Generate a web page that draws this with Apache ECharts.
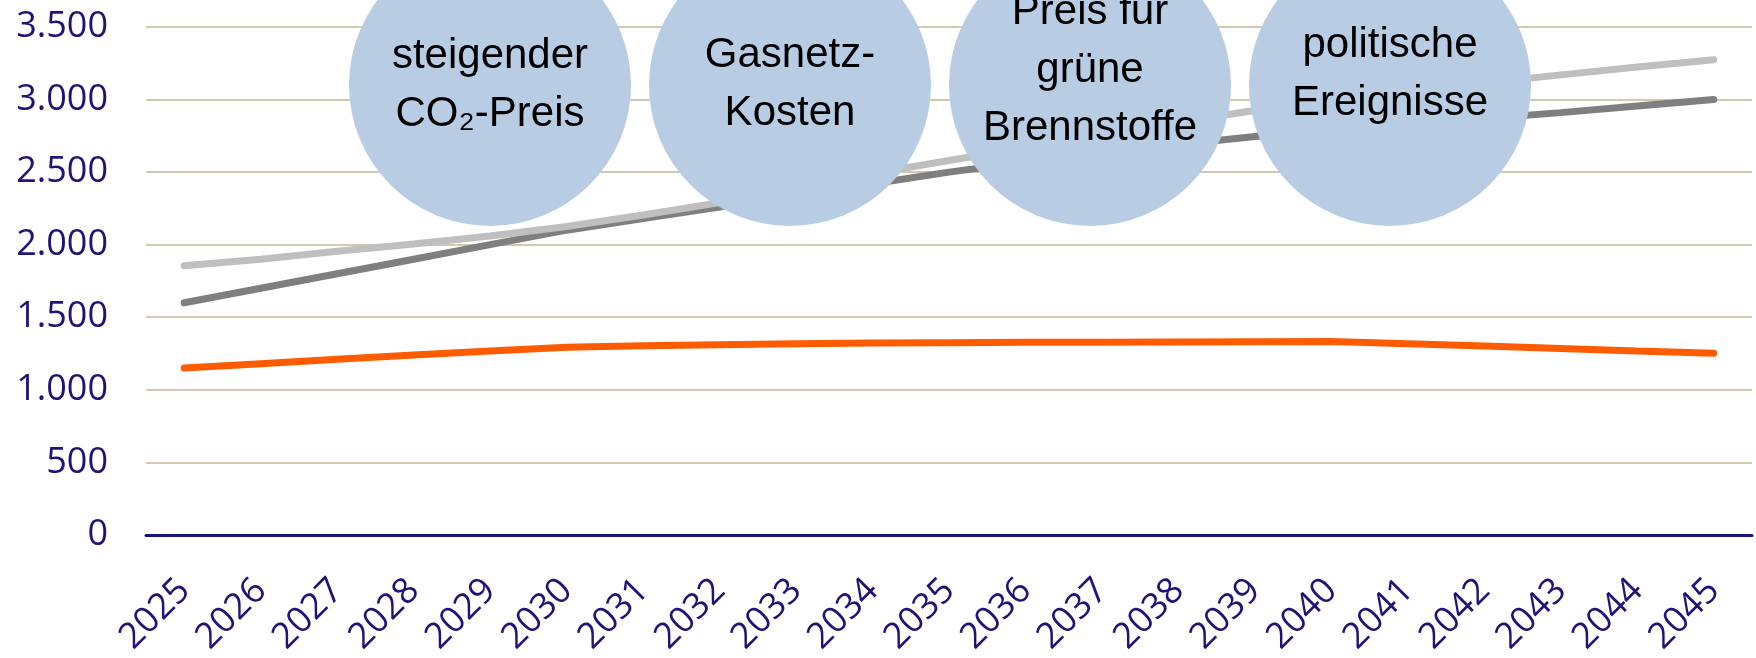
<!DOCTYPE html>
<html>
<head>
<meta charset="utf-8">
<script src="https://cdn.jsdelivr.net/npm/echarts@6/dist/echarts.min.js"></script>
<style>
html,body{margin:0;padding:0;background:#fff;}
#chart{width:1756px;height:658px;}
</style>
</head>
<body>
<div id="chart"></div>
<script>
const years = ['2025','2026','2027','2028','2029','2030','2031','2032','2033','2034','2035','2036','2037','2038','2039','2040','2041','2042','2043','2044','2045'];
const darkGray = [1600,1700,1800,1900,2000,2100,2180,2260,2340,2420,2500,2570,2630,2690,2745,2790,2830,2870,2910,2955,3000];
const lightGray = [1855,1900,1955,2005,2060,2125,2205,2290,2390,2490,2580,2670,2760,2845,2925,2990,3055,3115,3170,3225,3275];
const orange = [1150,1180,1210,1240,1268,1293,1303,1310,1317,1322,1325,1327,1328,1330,1332,1333,1318,1302,1285,1268,1252];
const yTicks = [0,500,1000,1500,2000,2500,3000,3500];
const bubbleLabels = ['steigender\nCO\u2082-Preis','Gasnetz-\nKosten','Preis für\ngrüne\nBrennstoffe','politische\nEreignisse'];

const bubbleLayout = [
  {cx:490, cy:85, ty:85},
  {cx:790, cy:85, ty:84},
  {cx:1090, cy:85, ty:70},
  {cx:1390, cy:85, ty:74}
];

function fmt(v){ return String(v).replace(/\B(?=(\d{3})+(?!\d))/g,'.'); }

const navy = '#1e1478';
const graphics = [];
bubbleLabels.forEach((t,i)=>{
  const b = bubbleLayout[i];
  graphics.push({type:'circle', z:100, shape:{cx:b.cx, cy:b.cy, r:141}, style:{fill:'#b8cce4'}});
  graphics.push({type:'text', z:101, x:b.cx, y:b.ty, style:{text:t, font:'42px "Liberation Sans", sans-serif', fill:'#000', align:'center', verticalAlign:'middle', textAlign:'center', textVerticalAlign:'middle', lineHeight:58}});
});

const chart = echarts.init(document.getElementById('chart'), null, {renderer:'canvas'});
chart.setOption({
  animation:false,
  backgroundColor:'#fff',
  grid:{left:146, right:4, top:27, bottom:116, containLabel:false},
  xAxis:{
    type:'category', data:years, boundaryGap:true,
    axisLine:{show:true, lineStyle:{color:navy, width:3}},
    axisTick:{show:false},
    axisLabel:{rotate:45, margin:50, color:navy, fontSize:36, fontFamily:'"Open Sans", sans-serif', interval:0},
    splitLine:{show:false}
  },
  yAxis:{
    type:'value', min:yTicks[0], max:yTicks[yTicks.length-1], interval:500,
    axisLine:{show:false}, axisTick:{show:false},
    axisLabel:{margin:38, color:navy, fontSize:36, fontFamily:'"Open Sans", sans-serif', formatter:fmt},
    splitLine:{show:true, lineStyle:{color:'#d6c8b0', width:2}}
  },
  series:[
    {type:'line', data:darkGray, symbol:'none', lineStyle:{color:'#7f7f7f', width:7, cap:'round'}, z:3},
    {type:'line', data:lightGray, symbol:'none', lineStyle:{color:'#bfbfbf', width:7, cap:'round'}, z:3},
    {type:'line', data:orange, symbol:'none', lineStyle:{color:'#ff5b00', width:7, cap:'round'}, z:4}
  ],
  graphic:graphics
});
</script>
</body>
</html>
